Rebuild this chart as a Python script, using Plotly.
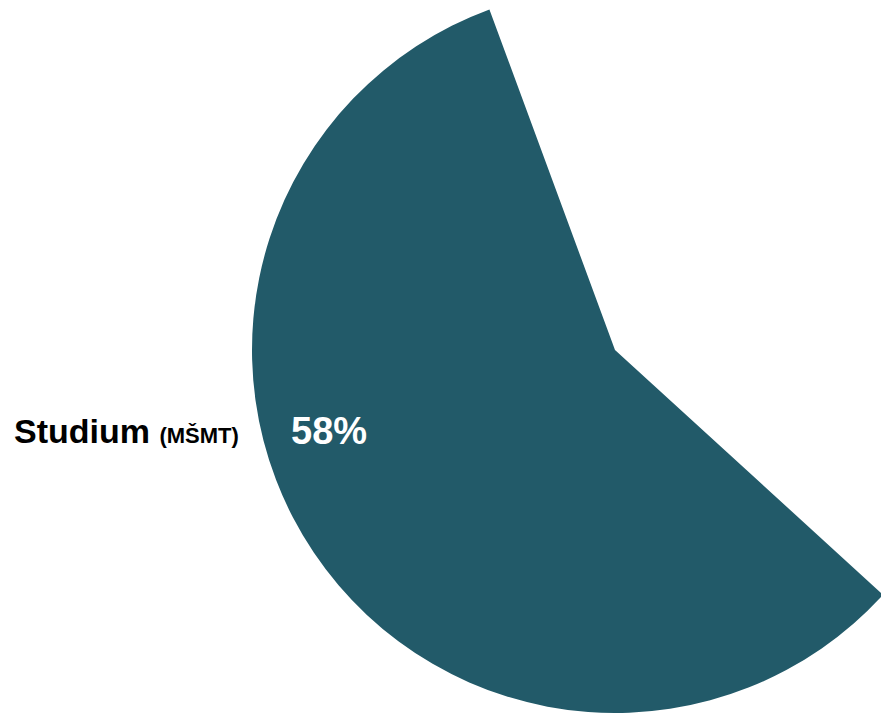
import plotly.graph_objects as go

# Data
categories = ["Studium (MŠMT)", "Ostatní"]
values = [57.6, 42.4]
label_main = "Studium"
label_sub = "(MŠMT)"

slice_colors = ["#225A69", "rgba(255,255,255,0)"]

# Figure geometry (the page is shifted up by TOP_SHIFT px so the pie can bleed off the top)
W, H = 978, 726
TOP_SHIFT = 13
FONT = "'Liberation Sans Narrow', 'Arial Narrow', 'Liberation Sans', Arial, sans-serif"


def px(x):
    return x / W


def py(y):
    return 1 - (y + TOP_SHIFT) / H


fig = go.Figure(
    go.Pie(
        labels=categories,
        values=values,
        sort=False,
        direction="clockwise",
        rotation=132.4,
        marker=dict(colors=slice_colors, line=dict(width=0)),
        textinfo="none",
        hoverinfo="label+percent",
        showlegend=False,
        domain=dict(x=[252 / W, 1], y=[0, 1]),
    )
)

share = values[0] / sum(values)

fig.add_annotation(
    x=px(329), y=py(431), xref="paper", yref="paper",
    text=f"<b>{share:.0%}</b>", showarrow=False,
    font=dict(family=FONT, size=38, color="white"),
    xanchor="center", yanchor="middle",
)
fig.add_annotation(
    x=px(12), y=py(431), xref="paper", yref="paper",
    text=f"<b>{label_main}</b> <b><span style='font-size:22px'>{label_sub}</span></b>",
    showarrow=False,
    font=dict(family=FONT, size=34, color="black"),
    xanchor="left", yanchor="middle",
)

fig.update_layout(
    width=W, height=H,
    margin=dict(l=0, r=0, t=0, b=0),
    paper_bgcolor="white",
    plot_bgcolor="white",
)

fig.write_html(
    "out.html",
    post_script=(
        "document.body.style.margin='0';"
        f"document.body.style.marginTop='-{TOP_SHIFT}px';"
        "document.body.style.overflow='hidden';"
    ),
)
